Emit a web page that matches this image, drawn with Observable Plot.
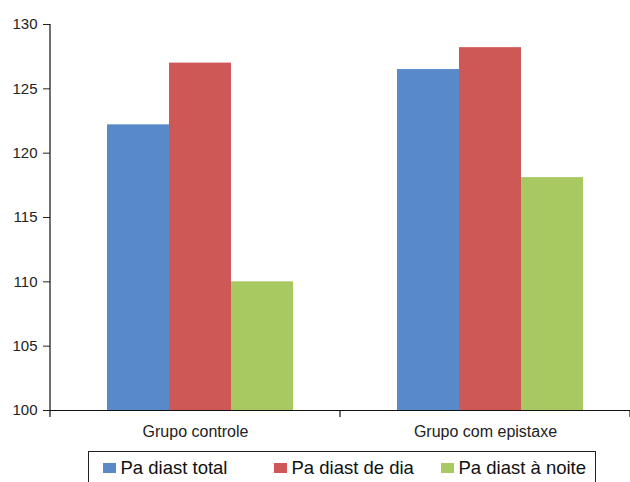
<!DOCTYPE html>
<html>
<head>
<meta charset="utf-8">
<script src="https://cdn.jsdelivr.net/npm/d3@7"></script>
<script src="https://cdn.jsdelivr.net/npm/@observablehq/plot@0.6"></script>
<style>
  body { margin: 0; background: #fff; font-family: "Liberation Sans", Arial, sans-serif; }
  #chart svg { display: block; }
  .legend {
    position: absolute; left: 88px; top: 451px; width: 508px; height: 40px;
    border: 1.3px solid #222; box-sizing: border-box;
    font-size: 18.5px; color: #111;
  }
  .legend .item { position: absolute; top: 5px; display: flex; align-items: center; white-space: nowrap; line-height: 1.15; }
  .legend .sw { width: 13px; height: 10px; margin-right: 5px; }
</style>
</head>
<body>
<div id="chart"></div>
<script>
const groups = ["Grupo controle", "Grupo com epistaxe"];
const series = ["Pa diast total", "Pa diast de dia", "Pa diast à noite"];
const colors = ["#588AC9", "#CE5856", "#A8C862"];
const totalValues = [122.2, 126.5];
const diaValues = [127.0, 128.2];
const noiteValues = [110.0, 118.1];
const yDomain = [100, 130];
const yTicks = [100, 105, 110, 115, 120, 125, 130];

const seriesValues = [totalValues, diaValues, noiteValues];
const data = [];
groups.forEach((g, gi) => series.forEach((s, si) => data.push({group: g, series: s, value: seriesValues[si][gi]})));

const plot = Plot.plot({
  width: 630,
  height: 448,
  marginLeft: 50,
  marginRight: 0,
  marginTop: 24,
  marginBottom: 38,
  style: {fontFamily: '"Liberation Sans", Arial, sans-serif', fontSize: "15px", color: "#222", background: "#fff"},
  fx: {domain: groups, padding: 0, tickSize: 0, tickPadding: 15, label: null, axis: "bottom"},
  x: {domain: series, paddingInner: 0, paddingOuter: 0.82, align: 0.546, axis: null},
  y: {domain: yDomain, ticks: yTicks, tickSize: 7, tickPadding: 6, label: null},
  color: {domain: series, range: colors},
  marks: [
    Plot.barY(data, {fx: "group", x: "series", y1: yDomain[0], y2: "value", fill: "series"}),
    Plot.ruleY([yDomain[0]], {stroke: "#111", strokeWidth: 1.2})
  ]
});
document.getElementById("chart").appendChild(plot);

// axis line and category boundary ticks derived from the plot's scales
const fx = plot.scale("fx");
const y = plot.scale("y");
const svg = d3.select(plot);
const y0 = y.apply(yDomain[0]);
const y1 = y.apply(yDomain[1]);
const left = fx.range[0];
svg.append("line").attr("x1", left).attr("x2", left).attr("y1", y1).attr("y2", y0)
  .attr("stroke", "#111").attr("stroke-width", 1.2);
const bounds = groups.map(g => fx.apply(g)).concat([fx.apply(groups[groups.length - 1]) + fx.bandwidth]);
bounds.forEach(b => {
  svg.append("line").attr("x1", b).attr("x2", b).attr("y1", y0).attr("y2", y0 + 7)
    .attr("stroke", "#111").attr("stroke-width", 1.2);
});
svg.selectAll("g").filter(function() {
  const a = this.getAttribute("aria-label") || "";
  return a.startsWith("fx-axis");
}).attr("font-size", 16).style("font-size", "16px").selectAll("text").style("font-size", "16px");

// legend
const legend = d3.select("body").append("div").attr("class", "legend");
const offsets = [13.5, 184.5, 351.5];
series.forEach((s, i) => {
  const it = legend.append("div").attr("class", "item").style("left", offsets[i] + "px");
  it.append("div").attr("class", "sw").style("background", colors[i]);
  it.append("span").text(s);
});
</script>
</body>
</html>
